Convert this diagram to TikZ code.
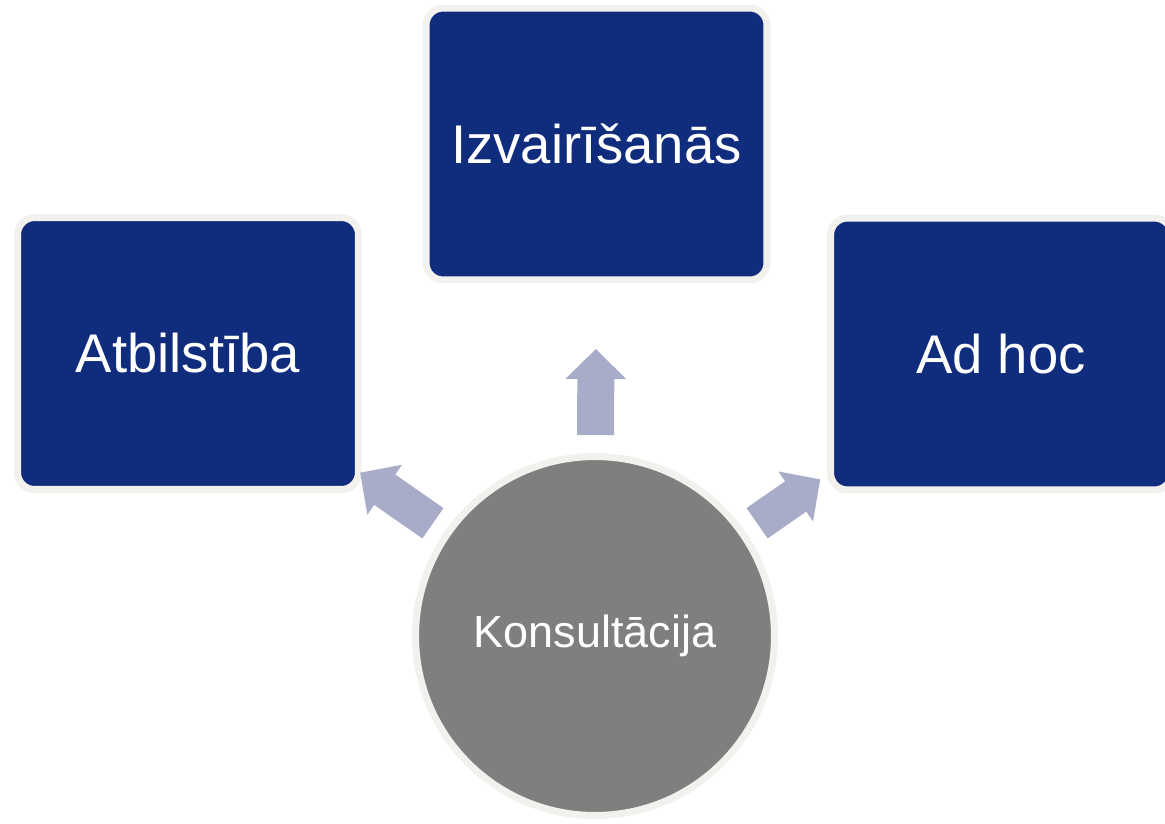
\documentclass[tikz,border=0pt]{standalone}
\usepackage{fontspec}
\setmainfont{Liberation Sans}
\usetikzlibrary{arrows.meta, shadows, positioning}
\definecolor{boxblue}{RGB}{16,45,125}
\definecolor{rimwhite}{RGB}{242,241,238}
\definecolor{arrowgrey}{RGB}{169,172,200}
\definecolor{circgrey}{RGB}{127,127,127}

\begin{document}
\begin{tikzpicture}[x=0.02cm, y=-0.02cm,
		BlueBox/.style={draw=rimwhite, fill=boxblue, line width=0.14cm, rounded corners=0.34cm,
			minimum width=6.82cm, minimum height=5.44cm, inner sep=0pt, outer sep=0pt,
			text=white, font=\fontsize{31}{36}\selectfont,
			drop shadow={shadow xshift=0.02cm, shadow yshift=-0.06cm, opacity=0.15, fill=black}},
		GreyDisc/.style={circle, draw=rimwhite, fill=circgrey, line width=0.14cm,
			minimum size=7.18cm, inner sep=0pt, outer sep=0pt,
			text=white, font=\fontsize{25.6}{30}\selectfont,
			drop shadow={shadow xshift=0.02cm, shadow yshift=-0.06cm, opacity=0.15, fill=black}},
		FlowArrow/.style={draw=arrowgrey, line width=0.74cm,
			-{Triangle[width=1.18cm, length=0.6cm]}}]
				\useasboundingbox (0, 0) rectangle (1165, 823);

				\node (Atbilst) [BlueBox] at (188, 353.5) {Atbilstība};
				\node (Izvair) [BlueBox] at (596.5, 144) {Izvairīšanās};
				\node (AdHoc) [BlueBox] at (1001, 354) {Ad hoc};

				\node (Konsult) [GreyDisc] at (595, 636) {Konsultācija};

				\draw[FlowArrow, shorten <=0.36cm, shorten >=0.04cm] (Konsult) -- (Atbilst);
				\draw[FlowArrow, shorten <=0.43cm, shorten >=1.38cm] (Konsult) -- (Izvair);
				\draw[FlowArrow, shorten <=0.36cm, shorten >=0.25cm] (Konsult) -- (AdHoc);
			\end{tikzpicture}
\end{document}
